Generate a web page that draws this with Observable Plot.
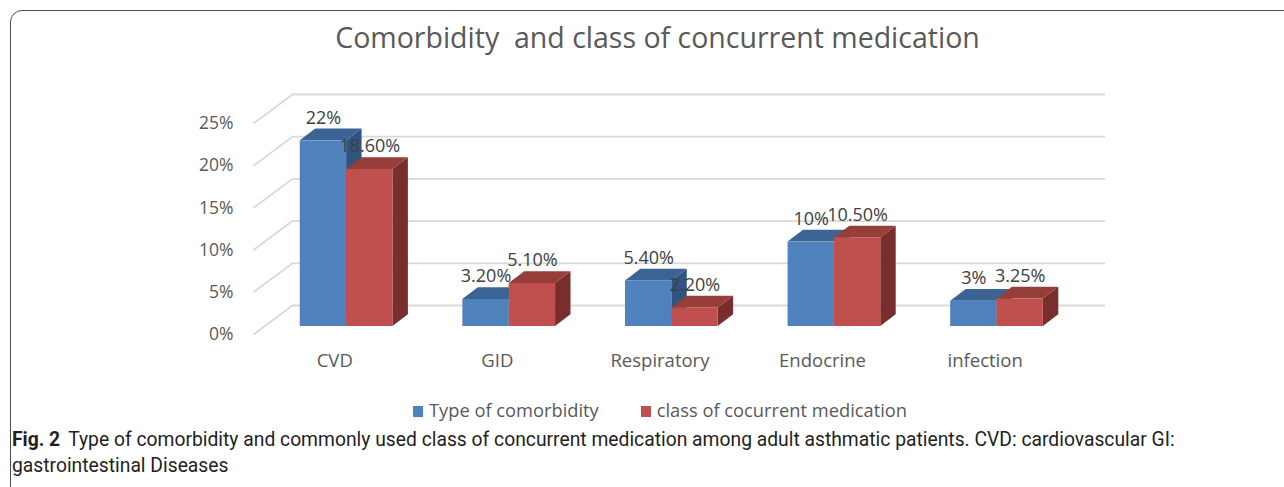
<!DOCTYPE html>
<html>
<head>
<meta charset="utf-8">
<script src="https://cdn.jsdelivr.net/npm/d3@7"></script>
<script src="https://cdn.jsdelivr.net/npm/@observablehq/plot@0.6"></script>
<style>
  html, body { margin: 0; padding: 0; background: #fff; }
  #page { position: relative; width: 1284px; height: 487px; overflow: hidden; background: #fff; }
  #frame { position: absolute; left: 10px; top: 10px; width: 1310px; height: 520px; border: 1.5px solid #4d4d4d; border-radius: 12px; box-sizing: border-box; }
  #title { position: absolute; left: 0; top: 18px; width: 1315px; text-align: center; font-family: "Open Sans", sans-serif; font-size: 28.5px; color: #595959; white-space: pre; }
  #chart { position: absolute; left: 0; top: 80px; }
  #legend { position: absolute; left: 413px; top: 397px; font-family: "Open Sans", sans-serif; font-size: 18.3px; color: #595959; white-space: nowrap; }
  #legend span.sw { display: inline-block; width: 10px; height: 11px; margin-right: 6px; vertical-align: 0px; }
  #legend span.item { margin-right: 42px; }
  .cap { position: absolute; left: 12px; font-family: Roboto, sans-serif; font-size: 19.3px; line-height: 26px; color: #231f20; white-space: nowrap; }
  .cap b { display: inline-block; margin-right: 8px; }
</style>
</head>
<body>
<div id="page">
  <div id="frame"></div>
  <div id="title"></div>
  <div id="chart"></div>
  <div id="legend"></div>
  <div id="cap1" class="cap" style="top:427px"></div>
  <div id="cap2" class="cap" style="top:453px"></div>
</div>
<script>
const title = "Comorbidity  and class of concurrent medication";
const categories = ["CVD", "GID", "Respiratory", "Endocrine", "infection"];
const seriesNames = ["Type of comorbidity", "class of cocurrent medication"];
const comorbidity = [22, 3.2, 5.4, 10, 3];
const medication = [18.6, 5.1, 2.2, 10.5, 3.25];
const comorbidityLabels = ["22%", "3.20%", "5.40%", "10%", "3%"];
const medicationLabels = ["18.60%", "5.10%", "2.20%", "10.50%", "3.25%"];
const yTicks = [0, 5, 10, 15, 20, 25];
const captionBold = "Fig. 2";
const captionLines = [
  "Type of comorbidity and commonly used class of concurrent medication among adult asthmatic patients. CVD: cardiovascular GI:",
  "gastrointestinal Diseases"
];

const colors = {
  blue: {front: "#4f81bd", top: "#3b6494", side: "#2f5480"},
  red: {front: "#c0504d", top: "#973d3a", side: "#782e2c"}
};

// 3D geometry (in data units)
const depthX = 0.095, depthY = 1.39;       // bar extrusion
const backX = 0.172, backY = 2.49;         // back wall offset
const frontX = -0.068, frontY = -0.95;     // front floor edge offset
const slots = [[0.22, 0.505], [0.505, 0.79]];

const bars = [];
categories.forEach((c, i) => {
  bars.push({cat: c, i, s: 0, v: comorbidity[i], label: comorbidityLabels[i], x0: i + slots[0][0], x1: i + slots[0][1]});
  bars.push({cat: c, i, s: 1, v: medication[i], label: medicationLabels[i], x0: i + slots[1][0], x1: i + slots[1][1]});
});

function tops(list) {
  return list.flatMap((b, k) => [
    {id: k, x: b.x0, y1: b.v, y2: b.v},
    {id: k, x: b.x0 + depthX, y1: b.v, y2: b.v + depthY},
    {id: k, x: b.x1, y1: b.v, y2: b.v + depthY},
    {id: k, x: b.x1 + depthX, y1: b.v + depthY, y2: b.v + depthY}
  ]);
}
function sides(list) {
  return list.flatMap((b, k) => [
    {id: k, x: b.x1, y1: 0, y2: b.v},
    {id: k, x: b.x1 + depthX, y1: depthY, y2: b.v + depthY}
  ]);
}

const marks = [
  Plot.ruleY(yTicks, {y: d => d + backY, x1: backX, x2: categories.length + backX, stroke: "#d9d9d9", strokeWidth: 1.8}),
  Plot.link(yTicks, {x1: backX, y1: d => d + backY, x2: frontX, y2: d => d + frontY, stroke: "#d9d9d9", strokeWidth: 1.8}),
  Plot.text(yTicks, {x: frontX, y: d => d + frontY, text: d => d + "%", textAnchor: "end", dx: -20, fill: "#595959", fontSize: 17.5}),
  Plot.text(categories, {x: (d, i) => i + 0.5 + frontX, y: frontY, text: d => d, dy: 27, fill: "#595959", fontSize: 18.5})
];
for (const s of [0, 1]) {
  const list = bars.filter(b => b.s === s);
  const col = s === 0 ? colors.blue : colors.red;
  marks.push(Plot.area(sides(list), {x1: "x", y1: "y1", y2: "y2", z: "id", fill: col.side}));
  marks.push(Plot.area(tops(list), {x1: "x", y1: "y1", y2: "y2", z: "id", fill: col.top}));
  marks.push(Plot.rect(list, {x1: "x0", x2: "x1", y1: 0, y2: "v", fill: col.front}));
}
marks.push(Plot.text(bars, {x: b => (b.x0 + b.x1) / 2, y: "v", text: "label", dy: -23, fill: "#404040", fontSize: 18}));

const chart = Plot.plot({
  width: 1284,
  height: 300,
  marginLeft: 264,
  marginRight: 207,
  marginTop: 35,
  marginBottom: 54,
  x: {type: "linear", domain: [0, categories.length], axis: null},
  y: {type: "linear", domain: [0, 25], axis: null},
  style: {fontFamily: "'Open Sans', sans-serif", fontSize: "17px", color: "#595959", background: "transparent", overflow: "visible"},
  marks
});
document.getElementById("chart").appendChild(chart);

document.getElementById("title").textContent = title;
const legend = document.getElementById("legend");
legend.innerHTML = seriesNames.map((n, i) =>
  `<span class="item"><span class="sw" style="background:${i === 0 ? colors.blue.front : colors.red.front}"></span>${n}</span>`).join("");
document.getElementById("cap1").innerHTML = `<b>${captionBold}</b><span>${captionLines[0]}</span>`;
document.getElementById("cap2").textContent = captionLines[1];
</script>
</body>
</html>
